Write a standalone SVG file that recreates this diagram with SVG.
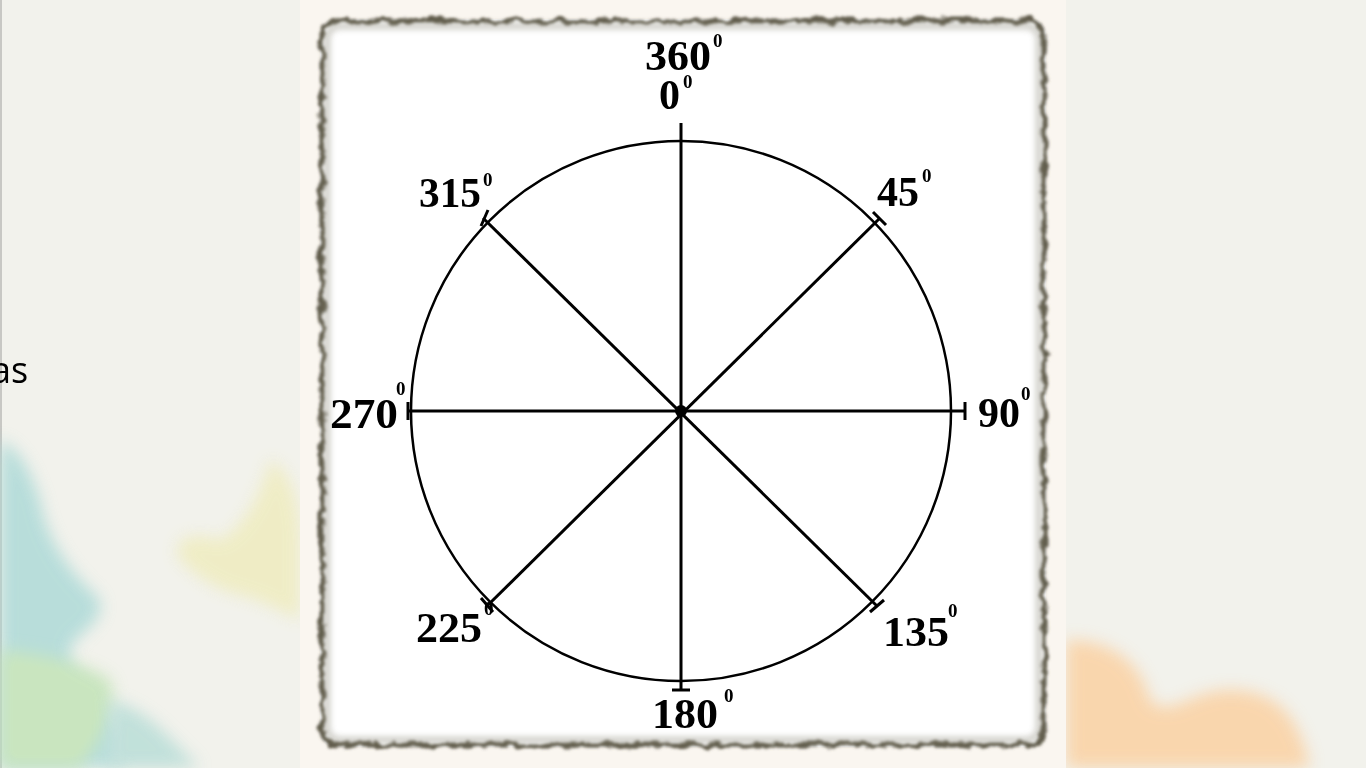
<svg xmlns="http://www.w3.org/2000/svg" width="1366" height="768" viewBox="0 0 1366 768">
<style>
.lbl{font-family:"Liberation Serif","Times New Roman",serif;font-weight:bold;font-size:42px;fill:#000}
.sup{font-family:"Liberation Serif","Times New Roman",serif;font-weight:bold;font-size:19px;fill:#000}
.ray{stroke:#000;stroke-width:3;fill:none}
</style>
<defs>
<filter id="blur8" x="-30%" y="-30%" width="160%" height="160%"><feGaussianBlur stdDeviation="8"/></filter>
<filter id="blur3" x="-10%" y="-10%" width="120%" height="120%"><feGaussianBlur stdDeviation="3"/></filter>
<filter id="grunge" x="-5%" y="-5%" width="110%" height="110%">
<feTurbulence type="fractalNoise" baseFrequency="0.08" numOctaves="3" seed="3" result="n"/>
<feDisplacementMap in="SourceGraphic" in2="n" scale="10" xChannelSelector="R" yChannelSelector="G" result="d"/>
<feGaussianBlur in="d" stdDeviation="1.5"/>
</filter>
</defs>
<rect width="1366" height="768" fill="#f2f2ec"/>
<rect x="0" y="0" width="2" height="768" fill="#c8c8c4"/>
<g opacity="0.8">
<path d="M0 440 C20 450 30 470 40 500 C45 530 60 560 90 590 C110 605 100 620 75 640 C60 660 80 680 100 700 C120 720 130 740 120 768 L0 768 Z" fill="#a9d8d6" filter="url(#blur8)"/>
<path d="M0 650 C40 655 80 660 110 680 C120 710 100 740 80 768 L0 768 Z" fill="#bfe2b4" filter="url(#blur8)"/>
<path d="M110 700 C150 710 170 740 200 768 L110 768 Z" fill="#b5dcd6" filter="url(#blur8)"/>
<path d="M270 460 C290 470 300 500 300 540 L300 620 C280 610 260 600 240 595 C220 590 200 580 180 560 C170 540 190 530 220 540 C240 530 260 500 270 460 Z" fill="#eeeab0" opacity="0.8" filter="url(#blur8)"/>
<path d="M1066 640 C1110 640 1140 660 1150 700 C1170 720 1190 690 1230 690 C1280 690 1300 720 1310 768 L1066 768 Z" fill="#fbcf9e" filter="url(#blur8)"/>
</g>
<rect x="300" y="0" width="766" height="768" fill="#faf6f0"/>
<g id="frame">
<rect x="320" y="19" width="726" height="728" rx="16" fill="#fff"/>
<rect x="322" y="21" width="722" height="724" rx="15" fill="none" stroke="#5e5a4a" stroke-width="5" filter="url(#grunge)"/>
<rect x="327" y="26" width="712" height="714" rx="12" fill="none" stroke="#8a8878" stroke-width="6" opacity="0.45" filter="url(#blur3)"/>
</g>
<text x="-9" y="383" font-family="'Open Sans',sans-serif" font-size="36" fill="#000">as</text>
<g id="connectors">
<circle cx="681" cy="411" r="270" fill="none" stroke="#000" stroke-width="2.5"/>
<line class="ray" x1="681" y1="123" x2="681" y2="690"/>
<line class="ray" x1="408" y1="411" x2="965" y2="411"/>
<line class="ray" x1="483" y1="218" x2="877" y2="606"/>
<line class="ray" x1="880" y1="218" x2="487" y2="606"/>
<line class="ray" x1="408" y1="402" x2="408" y2="420"/>
<line class="ray" x1="965" y1="402" x2="965" y2="420"/>
<line class="ray" x1="481" y1="226" x2="488" y2="210"/>
<line class="ray" x1="873" y1="212" x2="886" y2="225"/>
<line class="ray" x1="481" y1="598" x2="493" y2="612"/>
<line class="ray" x1="870" y1="612" x2="884" y2="600"/>
<line class="ray" x1="672" y1="690" x2="690" y2="690"/>
<circle cx="681" cy="411" r="6" fill="#000"/>
</g>
<g id="n360"><text class="lbl" x="645" y="70" textLength="66" lengthAdjust="spacingAndGlyphs">360</text><text class="sup" x="713" y="47">0</text></g>
<g id="n0"><text class="lbl" x="659" y="109">0</text><text class="sup" x="683" y="88">0</text></g>
<g id="n315"><text class="lbl" x="419" y="207" textLength="62" lengthAdjust="spacingAndGlyphs">315</text><text class="sup" x="483" y="186">0</text></g>
<g id="n45"><text class="lbl" x="877" y="206">45</text><text class="sup" x="922" y="182">0</text></g>
<g id="n270"><text class="lbl" x="330" y="428" textLength="68" lengthAdjust="spacingAndGlyphs">270</text><text class="sup" x="396" y="395">0</text></g>
<g id="n90"><text class="lbl" x="978" y="427">90</text><text class="sup" x="1021" y="400">0</text></g>
<g id="n225"><text class="lbl" x="416" y="642" textLength="66" lengthAdjust="spacingAndGlyphs">225</text><text class="sup" x="484" y="615">0</text></g>
<g id="n135"><text class="lbl" x="883" y="646" textLength="66" lengthAdjust="spacingAndGlyphs">135</text><text class="sup" x="948" y="617">0</text></g>
<g id="n180"><text class="lbl" x="652" y="728" textLength="66" lengthAdjust="spacingAndGlyphs">180</text><text class="sup" x="724" y="702">0</text></g>
</svg>
